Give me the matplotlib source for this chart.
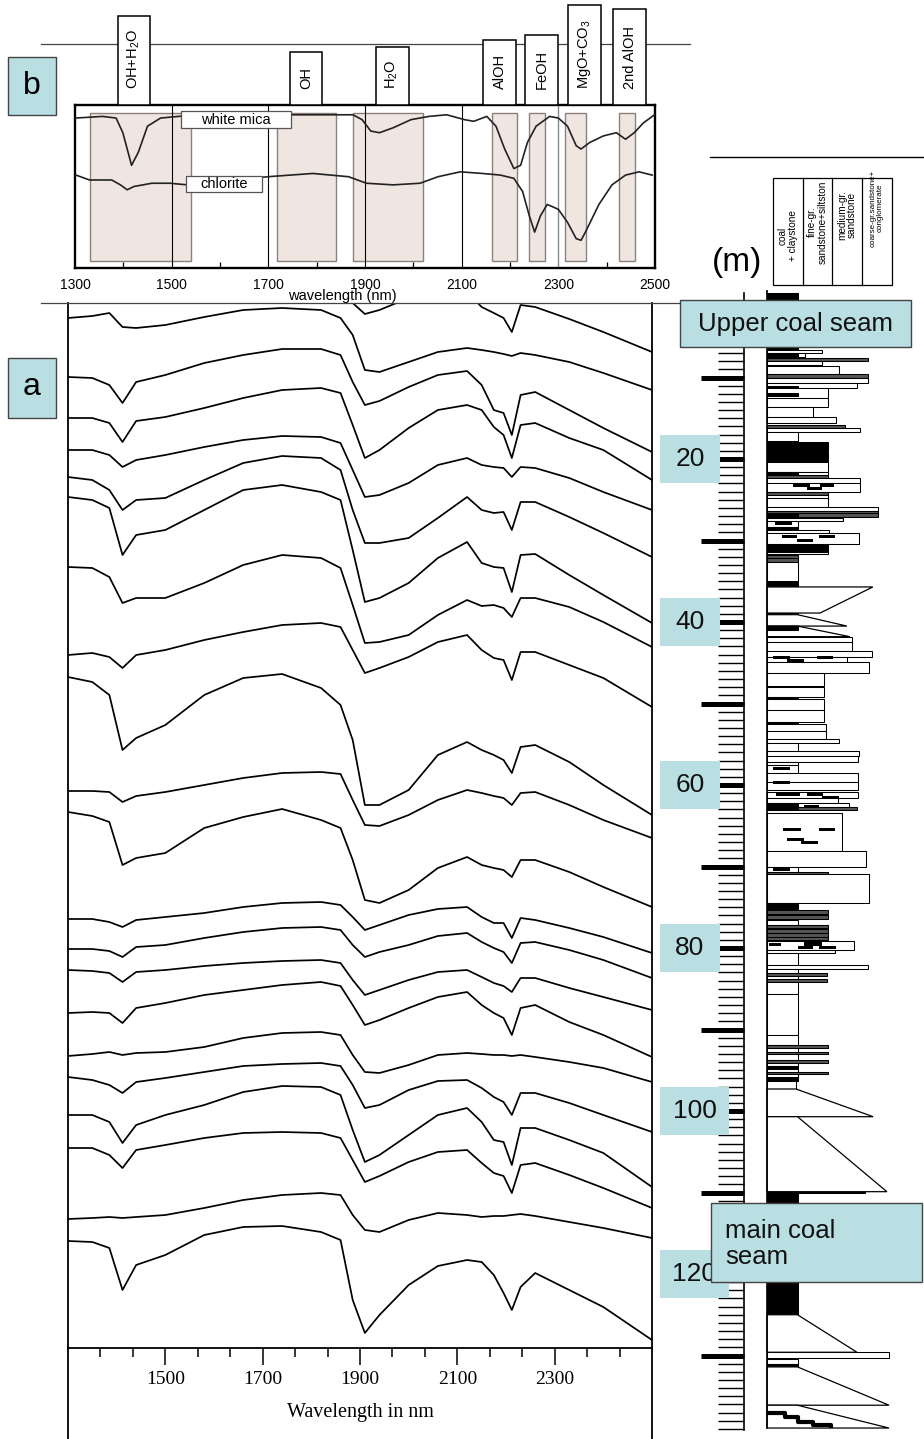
import matplotlib
matplotlib.use("Agg")
import matplotlib.pyplot as plt
from matplotlib.patches import Rectangle, Polygon
from matplotlib.lines import Line2D

plt.rcParams['font.family'] = ['Liberation Sans', 'DejaVu Sans']
plt.rcParams['mathtext.default'] = 'regular'

# ------------------------------------------------------------
# Panel b: reference spectra (reflectance, box-normalised)
# ------------------------------------------------------------
MICA_WL = [1302, 1357, 1385, 1399, 1417, 1431, 1450, 1477, 1514, 1561,
           1699, 1792, 1875, 1894, 1912, 1930, 1958, 1995, 2032, 2069,
           2106, 2125, 2152, 2171, 2189, 2208, 2222, 2236, 2254, 2282,
           2300, 2319, 2337, 2347, 2365, 2393, 2420, 2439, 2457, 2476, 2499]
MICA_R = [0.92, 0.93, 0.92, 0.83, 0.63, 0.71, 0.87, 0.92, 0.93, 0.94,
          0.94, 0.94, 0.94, 0.91, 0.84, 0.83, 0.86, 0.91, 0.93, 0.94,
          0.91, 0.90, 0.93, 0.87, 0.73, 0.61, 0.63, 0.77, 0.87, 0.93,
          0.92, 0.87, 0.75, 0.73, 0.77, 0.81, 0.83, 0.79, 0.83, 0.89, 0.94]
CHL_WL = [1302, 1330, 1376, 1394, 1408, 1422, 1459, 1496, 1533, 1699,
          1792, 1866, 1903, 1958, 2014, 2051, 2097, 2143, 2180, 2208,
          2226, 2240, 2251, 2263, 2277, 2300, 2319, 2337, 2347, 2356,
          2384, 2411, 2439, 2467, 2494]
CHL_R = [0.57, 0.54, 0.54, 0.51, 0.48, 0.50, 0.52, 0.52, 0.51, 0.56,
         0.58, 0.56, 0.52, 0.51, 0.52, 0.56, 0.59, 0.58, 0.57, 0.55,
         0.47, 0.32, 0.22, 0.32, 0.39, 0.36, 0.28, 0.18, 0.17, 0.22,
         0.39, 0.51, 0.57, 0.59, 0.57]

BAND_LO = [1330, 1718, 1875, 2162, 2239, 2313, 2426]
BAND_HI = [1541, 1841, 2019, 2215, 2273, 2357, 2459]

FEATURE_NAMES = ['OH+H$_2$O', 'OH', 'H$_2$O', 'AlOH', 'FeOH', 'MgO+CO$_3$', '2nd AlOH']
FEATURE_WL = [1422, 1778, 1956, 2179, 2266, 2355, 2448]
FEATURE_TOP = [1.546, 1.325, 1.356, 1.399, 1.429, 1.613, 1.589]

# ------------------------------------------------------------
# Panel a: stacked sample spectra (offset below top, arb. units)
# ------------------------------------------------------------
WL_A = [1300, 1350, 1385, 1412, 1440, 1500, 1580, 1660, 1740, 1820,
        1860, 1885, 1910, 1940, 2000, 2060, 2120, 2150, 2175, 2195,
        2212, 2230, 2260, 2330, 2400, 2500]

spec_01 = [-20, -20, -20, -20, -20, -20, -20, -20, -20, -20, -15, 3, 14, 10, -2, -12, -8, 7, 13, 18, 32, 5, 7, 19, 32, 52]
spec_02 = [18, 16, 13, 27, 28, 25, 17, 10, 8, 10, 18, 35, 70, 72, 62, 52, 48, 50, 52, 54, 56, 53, 55, 62, 73, 90]
spec_03 = [77, 78, 85, 103, 82, 75, 63, 55, 49, 49, 55, 82, 105, 101, 87, 75, 71, 85, 110, 113, 135, 95, 92, 110, 128, 152]
spec_04 = [118, 118, 123, 142, 121, 117, 108, 98, 90, 88, 93, 125, 158, 150, 128, 110, 105, 110, 127, 135, 158, 125, 123, 138, 150, 180]
spec_05 = [150, 150, 155, 167, 160, 155, 147, 140, 136, 137, 143, 170, 197, 195, 183, 165, 158, 165, 167, 168, 177, 167, 168, 178, 192, 210]
spec_06 = [177, 180, 190, 210, 200, 198, 180, 163, 156, 158, 170, 210, 243, 243, 238, 218, 197, 210, 213, 212, 230, 202, 202, 217, 233, 257]
spec_07 = [197, 200, 208, 255, 235, 230, 210, 190, 185, 192, 200, 250, 302, 298, 283, 258, 242, 263, 267, 268, 292, 255, 254, 275, 295, 323]
spec_08 = [267, 268, 277, 303, 298, 298, 283, 265, 255, 258, 268, 305, 343, 342, 335, 315, 300, 306, 305, 308, 317, 298, 298, 307, 322, 347]
spec_09 = [355, 353, 357, 368, 355, 350, 340, 332, 325, 323, 327, 350, 373, 368, 357, 342, 335, 350, 358, 360, 380, 352, 352, 365, 378, 407]
spec_10 = [377, 382, 395, 450, 438, 425, 395, 378, 374, 388, 405, 440, 505, 505, 490, 455, 442, 450, 455, 460, 473, 447, 445, 462, 485, 515]
spec_11 = [491, 491, 492, 502, 496, 492, 485, 478, 473, 472, 474, 500, 525, 526, 515, 500, 490, 493, 496, 498, 505, 493, 492, 505, 520, 538]
spec_12 = [512, 516, 522, 565, 558, 553, 528, 517, 509, 520, 528, 560, 600, 603, 590, 568, 557, 565, 568, 570, 577, 560, 560, 572, 587, 607]
spec_13 = [619, 619, 622, 627, 620, 617, 613, 607, 603, 602, 605, 617, 630, 625, 615, 609, 607, 617, 623, 623, 638, 618, 620, 628, 637, 653]
spec_14 = [649, 649, 651, 657, 647, 645, 638, 632, 628, 627, 630, 645, 657, 652, 645, 636, 633, 642, 648, 652, 663, 643, 642, 650, 660, 678]
spec_15 = [670, 671, 673, 682, 672, 670, 666, 663, 661, 660, 663, 680, 695, 690, 680, 672, 670, 677, 683, 686, 692, 678, 678, 688, 697, 710]
spec_16 = [713, 712, 713, 723, 708, 703, 695, 690, 685, 682, 686, 705, 725, 720, 708, 697, 692, 705, 713, 718, 735, 708, 705, 722, 735, 757]
spec_17 = [756, 754, 752, 755, 753, 752, 747, 738, 733, 732, 735, 755, 772, 773, 765, 755, 753, 754, 755, 755, 756, 755, 757, 762, 768, 782]
spec_18 = [777, 780, 785, 793, 782, 778, 772, 766, 764, 763, 766, 785, 808, 805, 790, 781, 780, 788, 797, 802, 815, 793, 793, 803, 815, 832]
spec_19 = [815, 815, 822, 843, 825, 815, 805, 792, 786, 787, 795, 830, 862, 855, 835, 815, 808, 822, 840, 842, 865, 828, 828, 840, 853, 887]
spec_20 = [848, 848, 855, 868, 850, 845, 838, 833, 832, 833, 838, 860, 882, 876, 862, 852, 850, 863, 873, 876, 893, 865, 863, 875, 888, 908]
spec_21 = [919, 918, 917, 918, 917, 915, 908, 900, 895, 893, 895, 915, 930, 932, 920, 913, 915, 917, 916, 916, 915, 914, 916, 922, 928, 938]
spec_22 = [941, 942, 948, 990, 965, 955, 935, 927, 926, 932, 940, 1000, 1033, 1015, 985, 966, 960, 962, 975, 993, 1010, 987, 973, 990, 1007, 1040]

spectra = [spec_01, spec_02, spec_03, spec_04, spec_05, spec_06, spec_07, spec_08,
           spec_09, spec_10, spec_11, spec_12, spec_13, spec_14, spec_15, spec_16,
           spec_17, spec_18, spec_19, spec_20, spec_21, spec_22]

# ------------------------------------------------------------
# Log: beds (top m, base m, grain-size class 0-4, fill)
# ------------------------------------------------------------
beds_upper = [
    (-0.4, 0.5, 1.0, 'k'), (0.5, 6.3, 1.0, 'w'), (6.3, 6.6, 1.0, 'k'),
    (6.6, 7.0, 1.8, 'w'), (7.0, 7.5, 1.25, 'w'), (7.0, 7.5, 1.0, 'k'),
    (7.6, 8.0, 3.3, 'g'), (8.0, 8.5, 1.8, 'w'), (8.6, 9.6, 2.36, 'w'),
    (9.6, 10.1, 3.3, 'g'), (10.1, 10.7, 3.3, 'w'), (10.7, 11.3, 2.94, 'w'),
    (11.0, 11.3, 1.0, 'k'), (11.3, 12.5, 2.0, 'w'), (11.9, 12.3, 1.0, 'k'),
    (12.5, 13.6, 2.0, 'w'), (13.6, 14.8, 1.5, 'w'), (14.8, 15.6, 2.26, 'w'),
    (15.8, 16.2, 2.56, 'g'), (16.2, 16.7, 3.05, 'w'), (16.7, 17.8, 1.0, 'w'),
    (17.9, 19.0, 2.0, 'k'), (19.1, 20.0, 2.0, 'k'), (20.1, 20.4, 2.0, 'k'),
    (20.4, 21.6, 2.0, 'w'), (21.6, 22.0, 2.0, 'w'), (21.6, 22.0, 1.0, 'k'),
    (22.0, 22.3, 2.0, 'g'), (22.3, 22.9, 3.05, 'w'), (22.9, 24.0, 3.05, 'w'),
    (24.0, 24.4, 2.0, 'g'), (24.4, 24.8, 2.0, 'w'), (24.8, 25.9, 2.0, 'w'),
    (25.9, 26.4, 3.64, 'w'), (26.4, 26.6, 3.64, 'g'), (26.6, 27.1, 3.64, 'g'),
    (26.6, 27.1, 1.0, 'k'), (27.2, 27.6, 2.5, 'w'), (27.6, 28.3, 1.0, 'w'),
    (28.3, 28.7, 1.0, 'k'), (28.7, 29.1, 2.03, 'w'), (29.1, 30.4, 3.0, 'w'),
    (30.4, 31.4, 2.0, 'k'), (31.4, 31.7, 2.0, 'w'), (31.8, 32.2, 1.0, 'g'),
    (32.2, 32.6, 1.0, 'g'), (32.6, 35.0, 1.0, 'w'), (35.1, 35.7, 1.0, 'k'),
]
beds_middle = [
    (38.9, 39.1, 1.0, 'w'), (41.8, 42.5, 2.78, 'w'), (42.5, 43.6, 2.78, 'w'),
    (43.6, 44.3, 3.43, 'w'), (44.3, 44.9, 2.62, 'w'), (44.9, 46.3, 3.35, 'w'),
    (46.3, 47.9, 1.87, 'w'), (48.0, 49.2, 1.87, 'w'), (49.2, 49.5, 1.0, 'k'),
    (49.5, 50.8, 1.87, 'w'), (50.8, 52.3, 1.87, 'w'), (52.3, 52.5, 1.0, 'k'),
    (52.5, 53.4, 1.93, 'w'), (53.4, 54.3, 1.93, 'w'), (54.3, 54.9, 2.36, 'w'),
    (54.9, 55.8, 1.0, 'w'), (55.8, 56.4, 3.0, 'w'), (56.4, 57.2, 2.97, 'w'),
    (57.2, 57.5, 1.0, 'w'), (57.5, 58.5, 1.0, 'w'), (58.5, 59.6, 2.97, 'w'),
    (59.6, 60.6, 2.97, 'w'), (60.9, 61.6, 2.97, 'w'), (61.6, 62.2, 2.32, 'w'),
    (62.2, 62.7, 2.69, 'w'), (62.7, 63.1, 2.95, 'g'), (62.2, 63.1, 1.0, 'k'),
    (63.4, 68.1, 2.45, 'w'), (68.1, 70.1, 3.25, 'w'), (70.1, 70.7, 1.0, 'w'),
    (70.7, 70.9, 2.0, 'g'), (70.9, 74.5, 3.35, 'w'),
]
beds_lower = [
    (74.5, 75.3, 1.0, 'k'), (75.3, 75.8, 2.0, 'g'), (75.9, 76.5, 2.0, 'g'),
    (76.6, 77.2, 1.0, 'w'), (77.2, 77.6, 2.0, 'g'), (77.7, 78.1, 2.0, 'g'),
    (78.2, 78.6, 2.0, 'g'), (78.6, 79.0, 2.0, 'g'), (79.1, 80.2, 2.85, 'w'),
    (80.2, 80.6, 2.23, 'w'), (80.6, 82.1, 1.0, 'w'), (82.1, 82.6, 3.3, 'w'),
    (82.6, 83.1, 1.0, 'w'), (83.1, 83.4, 1.97, 'g'), (83.4, 83.8, 1.0, 'w'),
    (83.8, 84.2, 1.97, 'g'), (84.2, 85.6, 1.0, 'w'), (85.6, 90.7, 1.0, 'w'),
    (90.7, 91.9, 1.0, 'w'), (91.9, 92.3, 2.0, 'g'), (92.3, 92.8, 1.0, 'w'),
    (92.8, 93.0, 2.0, 'g'), (93.0, 93.7, 1.0, 'w'), (93.7, 94.1, 2.0, 'g'),
    (94.1, 94.5, 1.0, 'w'), (94.5, 94.8, 1.0, 'k'), (94.8, 95.2, 1.0, 'w'),
    (95.2, 95.5, 2.0, 'g'), (95.5, 95.8, 1.0, 'w'), (95.8, 96.3, 1.0, 'k'),
    (96.3, 97.3, 0.95, 'w'), (109.9, 110.1, 3.2, 'w'), (110.1, 125.0, 1.0, 'k'),
    (129.6, 130.3, 4.0, 'w'), (130.4, 131.1, 1.0, 'w'), (131.1, 131.4, 1.0, 'k'),
]
# fining-upward wedges: (top m, base m, grain at top, grain at base)
wedges = [
    (35.7, 38.9, 3.47, 1.74), (39.1, 40.5, 1.0, 2.62), (40.5, 41.8, 1.0, 2.72),
    (97.3, 100.7, 0.95, 3.48), (100.7, 109.9, 1.0, 3.93), (125.0, 129.6, 1.0, 2.95),
    (131.4, 136.1, 1.0, 4.0), (136.1, 138.9, 1.0, 4.0),
]
wedge_caps = [(40.5, 41.0, 1.0, 'k')]
# coal lenses: (depth m, grain from, grain to)
lenses = [
    (23.2, 0.85, 1.4), (23.2, 1.75, 2.2), (23.6, 1.3, 1.8), (27.9, 0.26, 0.81),
    (29.5, 0.48, 0.97), (29.5, 1.69, 2.24), (30.0, 0.97, 1.52), (44.4, 0.2, 0.75),
    (44.8, 0.64, 1.2), (44.4, 1.63, 2.18), (58.0, 0.2, 0.77), (59.7, 0.2, 0.75),
    (61.1, 0.3, 1.08), (61.1, 1.3, 1.85), (61.5, 1.8, 2.35), (62.6, 1.2, 1.7),
    (65.5, 0.53, 1.13), (65.5, 1.7, 2.24), (66.7, 0.64, 1.2), (67.1, 1.13, 1.68),
    (70.3, 0.2, 0.75), (79.6, 0.07, 0.45), (79.9, 1.0, 1.5), (79.5, 1.2, 1.8),
    (79.9, 1.7, 2.25),
]
stair_g = [0, 0.6, 0.6, 1.0, 1.0, 1.5, 1.5, 2.1, 2.1]
stair_m = [137.0, 137.0, 137.6, 137.6, 138.1, 138.1, 138.5, 138.5, 138.9]

DEPTH_LABELS = [20, 40, 60, 80, 100, 120]
GRAIN_HEADERS = ['coal\n+ claystone', 'fine-gr.\nsandstone+siltston',
                 'medium-gr.\nsandstone', 'coarse-gr.sandstone+\nconglomerate']

# ------------------------------------------------------------
# Figure helpers (pixel layout)
# ------------------------------------------------------------
FW, FH = 924, 1439
BLUE = '#badfe2'
fig = plt.figure(figsize=(FW / 100, FH / 100), dpi=100)


def frect(x0, y0, x1, y1):
    return [x0 / FW, 1 - y1 / FH, (x1 - x0) / FW, (y1 - y0) / FH]


def fig_line(x0, y0, x1, y1, **kw):
    fig.add_artist(Line2D([x0 / FW, x1 / FW], [1 - y0 / FH, 1 - y1 / FH],
                          transform=fig.transFigure, **kw))


def fig_box(x0, y0, x1, y1, **kw):
    fig.add_artist(Rectangle((x0 / FW, 1 - y1 / FH), (x1 - x0) / FW, (y1 - y0) / FH,
                             transform=fig.transFigure, **kw))


def fig_text(x, y, s, **kw):
    fig.text(x / FW, 1 - y / FH, s, **kw)


def g_of(px):
    return (px - 767) / 30.5


# ------------------------------------------------------------
# Panel b
# ------------------------------------------------------------
fig_line(41, 44, 690, 44, color='#444444', lw=0.9, zorder=-1)

axb = fig.add_axes(frect(75, 105, 655, 268))
axb.set_xlim(1300, 2500)
axb.set_ylim(0, 1)
for lo, hi in zip(BAND_LO, BAND_HI):
    axb.add_patch(Rectangle((lo, 0.04), hi - lo, 0.91, facecolor='#efe5e1',
                            edgecolor='#8d817e', lw=1.0, zorder=1))
for w in [1500, 1700, 1900, 2100]:
    axb.axvline(w, color='black', lw=0.8, zorder=2)
axb.axvline(2300, color='#8a8a8a', lw=1.0, zorder=2)
axb.plot(MICA_WL, MICA_R, color='#222222', lw=1.2, zorder=3)
axb.plot(CHL_WL, CHL_R, color='#222222', lw=1.2, zorder=3)

axb.add_patch(Rectangle((1519, 0.859), 228, 0.104, facecolor='white', edgecolor='#555555', lw=0.9, zorder=4))
axb.text(1633, 0.911, 'white mica', ha='center', va='center', fontsize=10.5, zorder=5)
axb.add_patch(Rectangle((1530, 0.466), 157, 0.098, facecolor='white', edgecolor='#555555', lw=0.9, zorder=4))
axb.text(1608, 0.515, 'chlorite', ha='center', va='center', fontsize=10.5, zorder=5)

for name, wl, top in zip(FEATURE_NAMES, FEATURE_WL, FEATURE_TOP):
    axb.add_patch(Rectangle((wl - 34, 1.0), 68, top - 1.0, facecolor='white',
                            edgecolor='black', lw=1.1, clip_on=False, zorder=5))
    axb.text(wl, 1.098, name, rotation=90, ha='center', va='bottom',
             fontsize=10.5, clip_on=False, zorder=6)

for sp in axb.spines.values():
    sp.set_linewidth(1.7)
axb.set_xticks(range(1300, 2501, 200))
axb.set_xticks(range(1400, 2500, 200), minor=True)
axb.tick_params(axis='x', which='major', length=0, pad=7, labelsize=10)
axb.tick_params(axis='x', which='minor', direction='in', length=4, width=0.9)
axb.set_yticks([])
fig_text(342, 296, 'wavelength (nm)', ha='center', va='center', fontsize=10.5)

fig_box(8, 57, 56, 115, facecolor=BLUE, edgecolor='#444444', lw=1.0)
fig_text(32, 86, 'b', ha='center', va='center', fontsize=23)

# ------------------------------------------------------------
# Panel a
# ------------------------------------------------------------
fig_line(41, 303, 680, 303, color='#444444', lw=0.9)

axa = fig.add_axes(frect(68, 303, 652, 1348))
axa.set_xlim(1300, 2500)
axa.set_ylim(1048, 3)
for s in spectra:
    axa.plot(WL_A, s, color='black', lw=1.25, solid_joinstyle='round')
axa.spines['top'].set_visible(False)
for sp in ['left', 'right', 'bottom']:
    axa.spines[sp].set_linewidth(1.3)
axa.set_xticks([1500, 1700, 1900, 2100, 2300])
axa.set_xticks([1300 + k * 200 / 3 for k in range(1, 18) if k % 3], minor=True)
axa.tick_params(axis='x', which='major', direction='out', length=12.5, width=1.1,
                labelsize=14, pad=4, labelfontfamily='Liberation Serif')
axa.tick_params(axis='x', which='minor', direction='out', length=6.5, width=1.1)
axa.set_yticks([])
fig_text(360, 1413, 'Wavelength in nm', ha='center', va='center', fontsize=14.5,
         family='Liberation Serif')
fig_line(68, 1348, 68, 1439, color='black', lw=1.3)
fig_line(652, 1348, 652, 1439, color='black', lw=1.3)

fig_box(8, 358, 56, 418, facecolor=BLUE, edgecolor='#444444', lw=1.0)
fig_text(32, 387, 'a', ha='center', va='center', fontsize=23)

# ------------------------------------------------------------
# Stratigraphic log
# ------------------------------------------------------------
fig_line(710, 157, 924, 157, color='black', lw=1.0)
fig_text(737, 262, '(m)', ha='center', va='center', fontsize=24)

fig_box(773, 178, 892, 285, facecolor='white', edgecolor='black', lw=0.9)
for xd in [803, 832, 862]:
    fig_line(xd, 178, xd, 285, color='black', lw=0.9)
for xc, yc, txt, fs in zip([788, 817.5, 847, 877], [236, 222, 215, 208], GRAIN_HEADERS,
                           [7.2, 7.2, 7.2, 5.8]):
    fig_text(xc, yc, txt, rotation=90, ha='center', va='center', fontsize=fs,
             multialignment='center', linespacing=1.05)

axl = fig.add_axes(frect(655, 290, 924, 1439))
axl.set_xlim(g_of(655), g_of(924))
axl.set_ylim((1439 - 296) / 8.15, (290 - 296) / 8.15)
axl.patch.set_visible(False)
for sp in ['top', 'right', 'bottom']:
    axl.spines[sp].set_visible(False)
axl.spines['left'].set_position(('data', g_of(744)))
axl.spines['left'].set_bounds(-0.4, 139.2)
axl.spines['left'].set_linewidth(1.2)
axl.set_yticks(range(10, 140, 10))
axl.set_yticks([m for m in range(1, 140) if m % 10], minor=True)
axl.tick_params(axis='y', which='major', direction='out', length=31, width=3.6, labelleft=False)
axl.tick_params(axis='y', which='minor', direction='out', length=19, width=1.0)
axl.set_xticks([])

fills = {'w': 'white', 'k': 'black', 'g': '#555555'}
for top, base, g, f in beds_upper + beds_middle + beds_lower:
    axl.add_patch(Rectangle((0, top), g, base - top, facecolor=fills[f],
                            edgecolor='black', lw=0.75, zorder=2))
for top, base, gt, gb in wedges:
    axl.add_patch(Polygon([(0, top), (gt, top), (gb, base), (0, base)], closed=True,
                          facecolor='white', edgecolor='black', lw=0.9, zorder=2))
for top, base, g, f in wedge_caps:
    axl.add_patch(Rectangle((0, top), g, base - top, facecolor=fills[f],
                            edgecolor='black', lw=0.75, zorder=3))
for d, g0, g1 in lenses:
    axl.add_patch(Rectangle((g0, d - 0.2), g1 - g0, 0.4, facecolor='black',
                            edgecolor='none', zorder=3))
axl.plot(stair_g, stair_m, color='black', lw=3, zorder=3, solid_capstyle='butt')
axl.plot([0, 0], [-0.7, 138.9], color='black', lw=1.2, zorder=4)

for d in DEPTH_LABELS:
    right = g_of(729) if d >= 100 else g_of(720)
    axl.add_patch(Rectangle((g_of(660), d - 2.9), right - g_of(660), 5.8,
                            facecolor=BLUE, edgecolor='none', clip_on=False, zorder=6))
    axl.text((g_of(660) + right) / 2, d, str(d), ha='center', va='center',
             fontsize=19, color='#111111', zorder=7, clip_on=False)

axl.add_patch(Rectangle((g_of(680), 0.49), g_of(911) - g_of(680), 5.77,
                        facecolor=BLUE, edgecolor='#444444', lw=1.0, clip_on=False, zorder=8))
axl.text(g_of(795), 3.4, 'Upper coal seam', ha='center', va='center', fontsize=18.5,
         color='#111111', zorder=9, clip_on=False)
axl.add_patch(Rectangle((g_of(711), 111.3), g_of(922) - g_of(711), 9.7,
                        facecolor=BLUE, edgecolor='#444444', lw=1.0, clip_on=False, zorder=8))
axl.text(g_of(725), 116.3, 'main coal\nseam', ha='left', va='center', fontsize=18.5,
         color='#111111', zorder=9, clip_on=False, linespacing=1.1)

fig.savefig('out.png', dpi=100)
